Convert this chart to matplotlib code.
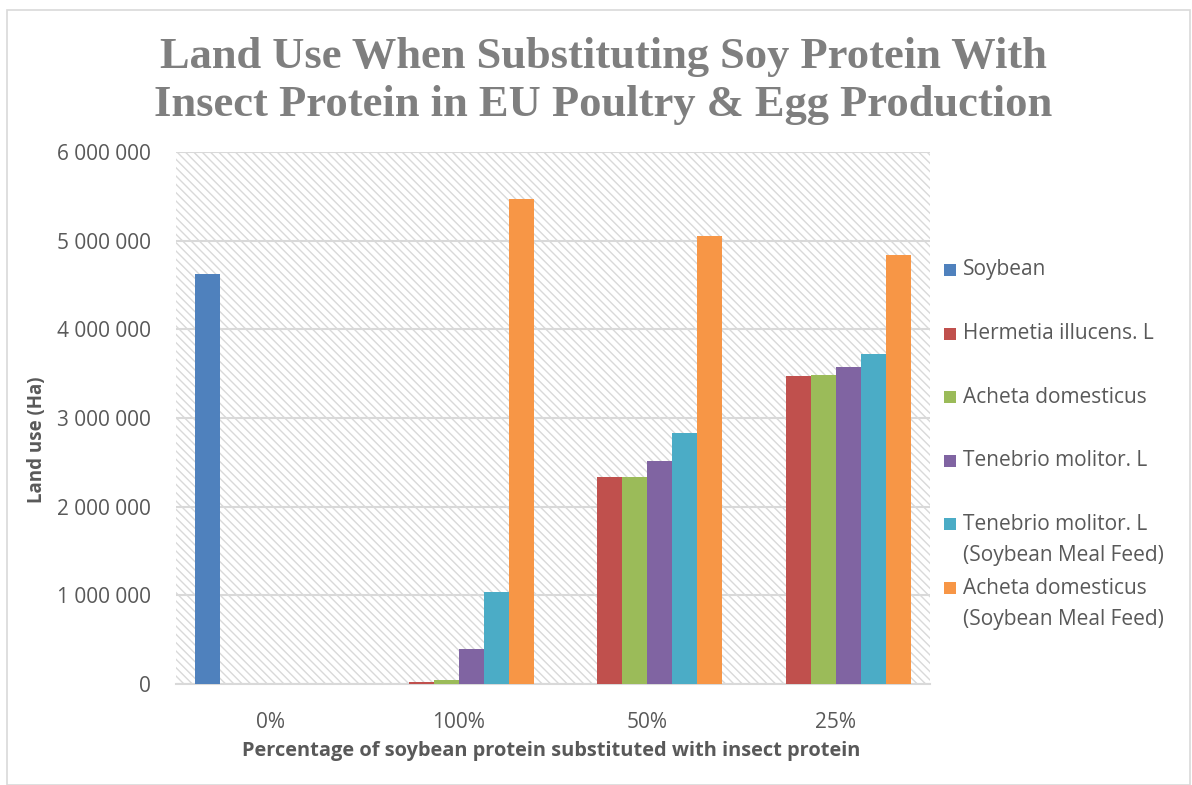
"""Land use chart: soy protein vs insect protein substitution."""

import matplotlib.pyplot as plt
import matplotlib
from matplotlib.patches import Rectangle
from matplotlib.ticker import FuncFormatter
import numpy as np

matplotlib.rcParams["font.family"] = ["Open Sans", "DejaVu Sans"]
matplotlib.rcParams["hatch.color"] = "#d9d9d9"
matplotlib.rcParams["hatch.linewidth"] = 1.0

categories = ["0%", "100%", "50%", "25%"]
series_names = [
    "Soybean",
    "Hermetia illucens. L",
    "Acheta domesticus",
    "Tenebrio molitor. L",
    "Tenebrio molitor. L\n(Soybean Meal Feed)",
    "Acheta domesticus\n(Soybean Meal Feed)",
]
soybean = [4620000, 0, 0, 0]
hermetia = [0, 20000, 2330000, 3470000]
acheta = [0, 50000, 2340000, 3480000]
tenebrio = [0, 395000, 2510000, 3570000]
tenebrio_smf = [0, 1040000, 2830000, 3720000]
acheta_smf = [0, 5470000, 5050000, 4840000]
values = [soybean, hermetia, acheta, tenebrio, tenebrio_smf, acheta_smf]
colors = ["#4f81bd", "#c0504d", "#9bbb59", "#8064a2", "#4bacc6", "#f79646"]

TEXT = "#595959"
W, H = 1192, 785

fig = plt.figure(figsize=(W / 100, H / 100), dpi=100)
ax = fig.add_axes([176 / W, 1 - 684 / H, (930 - 176) / W, (684 - 152) / H])

# chart area border
fig.patches.append(Rectangle((0.006, 0.0), 0.992, 0.987, transform=fig.transFigure,
                             fill=False, edgecolor="#d9d9d9", linewidth=1.2))

# hatched plot background
ax.set_facecolor("white")
ax.add_patch(Rectangle((0, 0), 1, 1, transform=ax.transAxes, facecolor="white",
                       edgecolor="#d9d9d9", hatch="\\\\\\\\", linewidth=0, zorder=0))

x = np.arange(len(categories))
n = len(values)
bw = 0.133
for i, (vals, c) in enumerate(zip(values, colors)):
    ax.bar(x + (i - (n - 1) / 2) * bw, vals, width=bw, color=c, zorder=3)

ax.set_xlim(-0.5, len(categories) - 0.5)
ax.set_ylim(0, 6000000)
ax.set_yticks(np.arange(0, 6000001, 1000000))
ax.yaxis.set_major_formatter(FuncFormatter(lambda v, p: f"{int(v):,}".replace(",", " ")))
ax.set_xticks(x)
ax.set_xticklabels(categories)
ax.grid(axis="y", color="#d9d9d9", linewidth=1.5, zorder=1)
ax.set_axisbelow(True)
for s in ["top", "right", "left"]:
    ax.spines[s].set_visible(False)
ax.spines["bottom"].set_color("#d9d9d9")
ax.spines["bottom"].set_linewidth(1.5)
ax.tick_params(length=0, labelsize=15, colors=TEXT)
ax.tick_params(axis="x", pad=20)
ax.tick_params(axis="y", pad=18)

fig.text(37 / W, 1 - 440 / H, "Land use (Ha)", rotation=90, ha="center", va="center",
         fontsize=13.5, fontweight="bold", color=TEXT)
fig.text(551 / W, 1 - 751 / H,
         "Percentage of soybean protein substituted with insect protein",
         ha="center", va="center", fontsize=14.4, fontweight="bold", color=TEXT)

fig.text(603 / W, 1 - 57 / H, "Land Use When Substituting Soy Protein With",
         ha="center", va="center", fontsize=32, fontweight="bold", color="#7f7f7f",
         family="Liberation Serif")
fig.text(603 / W, 1 - 105 / H, "Insect Protein in EU Poultry & Egg Production",
         ha="center", va="center", fontsize=32, fontweight="bold", color="#7f7f7f",
         family="Liberation Serif")

# legend, drawn like the spreadsheet one: fixed pitch per entry
for i, (c, name) in enumerate(zip(colors, series_names)):
    yc = 270 + i * 63.6
    fig.patches.append(Rectangle((944 / W, 1 - (yc + 6) / H), 12 / W, 12 / H,
                                 transform=fig.transFigure, facecolor=c, edgecolor="none"))
    for j, line in enumerate(name.split("\n")):
        fig.text(963 / W, 1 - (yc + j * 31.5) / H, line, ha="left", va="center",
                 fontsize=15, color=TEXT)

fig.savefig("out.png", dpi=100)
